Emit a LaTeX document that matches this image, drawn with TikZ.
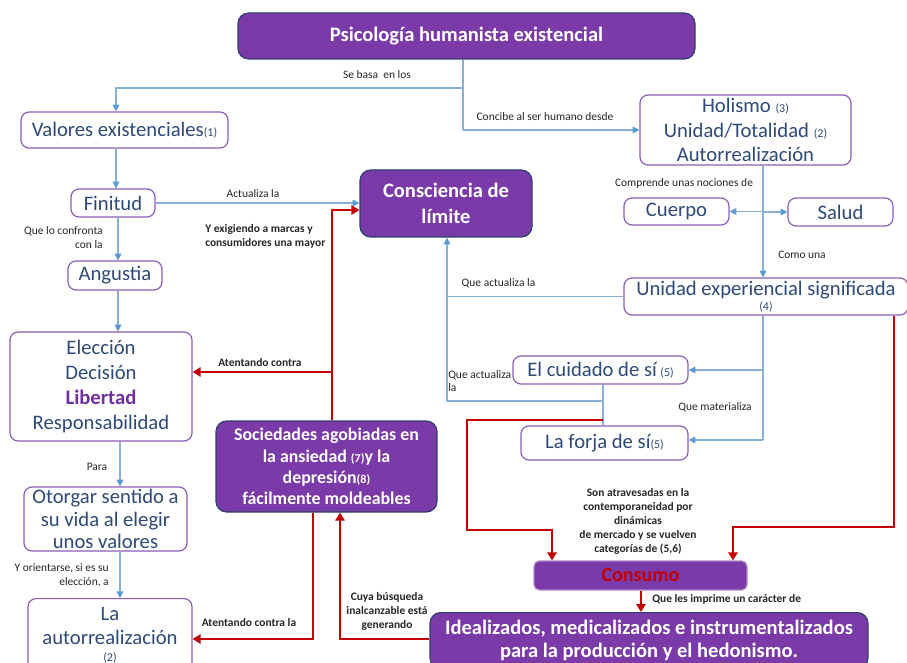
\documentclass[tikz,border=0pt]{standalone}
\usepackage{fontspec}
\setmainfont{Carlito}
\usetikzlibrary{arrows.meta}
\definecolor{purp}{HTML}{7A3AA7}
\definecolor{navy}{HTML}{2F3F6F}
\definecolor{bpurp}{HTML}{8C5DB8}
\definecolor{txtb}{HTML}{2E4A78}
\definecolor{lblue}{HTML}{86B0D8}
\definecolor{ablue}{HTML}{5B9BD5}
\definecolor{dred}{HTML}{C00000}
\definecolor{lab}{HTML}{262626}
\definecolor{lib}{HTML}{7030A0}
\newcommand\fsz[2]{\fontsize{#1}{#2}\selectfont}
\newcommand\sm[1]{{\fsz{9}{10}#1}}
\begin{document}
\begin{tikzpicture}[x=0.75pt,y=-0.75pt,
 wbox/.style={draw=bpurp,fill=white,line width=0.9pt,rounded corners=6pt,text=txtb,align=center,inner sep=0pt,font=\fsz{15.5}{18.6}},
 pbox/.style={draw=navy,fill=purp,line width=0.9pt,rounded corners=8pt,text=white,align=center,inner sep=0pt,font=\bfseries\fsz{15.4}{17}},
 sz/.style 2 args={minimum width={#1*0.75pt},minimum height={#2*0.75pt}},
 bl/.style={draw=lblue,line width=0.8pt,-{Triangle[length=5pt,width=5pt,color=ablue]}},
 bn/.style={draw=lblue,line width=0.8pt},
 rd/.style={draw=dred,line width=2.2pt,-{Triangle[length=6pt,width=7pt]}},
 lbl/.style={text=lab,font=\fsz{8.6}{10.2},inner sep=0pt,align=center},
 blbl/.style={text=lab,font=\bfseries\fsz{8.6}{10.5},inner sep=0pt,align=center}]
\useasboundingbox (0,0) rectangle (907,663);
\fill[white] (0,0) rectangle (907,663);

% nodes
\node[pbox,sz={457}{46}] (title) at (466.5,36) {Psicología humanista existencial};
\node[wbox,sz={207}{36}] (val) at (124.5,130) {Valores existenciales\sm{(1)}};
\node[wbox,sz={84}{28}] (fin) at (113,203) {Finitud};
\node[wbox,sz={94}{29}] (ang) at (115,275.5) {Angustia};
\node[wbox,sz={182}{109},font=\fsz{15.5}{18.8}] (ele) at (101,386.5) {Elección\\Decisión\\{\color{lib}\bfseries Libertad}\\Responsabilidad};
\node[wbox,sz={163}{64},font=\fsz{15.5}{17}] (oto) at (105.5,519) {Otorgar sentido a\\su vida al elegir\\unos valores};
\node[wbox,sz={164}{73},anchor=north] (aut) at (110,598) {La\\autorrealización\\[-6pt]\sm{(2)}};
\node[pbox,sz={172}{67},font=\bfseries\fsz{15.4}{19.5}] (con) at (446,203.5) {Consciencia de\\límite};
\node[wbox,sz={211}{70}] (hol) at (745.5,130) {Holismo \sm{(3)}\\Unidad/Totalidad \sm{(2)}\\Autorrealización};
\node[wbox,sz={105}{27}] (cue) at (676.5,211.5) {Cuerpo};
\node[wbox,sz={105}{28}] (sal) at (840.5,212) {Salud};
\node[wbox,sz={284}{37},font=\fsz{15.5}{11}] (uni) at (766,296.5) {Unidad experiencial significada\\\sm{(4)}};
\node[wbox,sz={175}{28}] (cui) at (600.5,370) {El cuidado de sí\,\sm{(5)}};
\node[wbox,sz={167}{34}] (for) at (604.5,443) {La forja de sí\sm{(5)}};
\node[pbox,sz={221}{91},font=\bfseries\fsz{13.4}{16}] (soc) at (326.5,466.5) {Sociedades agobiadas en\\la ansiedad \sm{(7)}y la\\depresión\sm{(8)}\\fácilmente moldeables};
\node[pbox,sz={213}{29},draw=purp!60!white,text=dred,font=\bfseries\fsz{15}{18},rounded corners=4pt] (cns) at (640.5,575.5) {Consumo};
\node[pbox,sz={438}{56},anchor=north,font=\bfseries\fsz{15.4}{17.25}] (ide) at (649,612) {Idealizados, medicalizados e instrumentalizados\\para la producción y el hedonismo.};

% helper coordinates
\coordinate (j1) at (463,88);
\coordinate (j2) at (463,130);
\coordinate (x116) at (116,0);
\coordinate (x118) at (118,0);
\coordinate (x120) at (120,0);
\coordinate (x763) at (763,0);
\coordinate (x447) at (447,0);
\coordinate (x603) at (603,0);
\coordinate (x332) at (332,0);
\coordinate (x313) at (313,0);
\coordinate (x340) at (340,0);
\coordinate (x467) at (467,0);
\coordinate (x552) at (552,0);
\coordinate (x894) at (894,0);
\coordinate (x733) at (733,0);
\coordinate (x641) at (641,0);
\coordinate (y210) at (0,210);
\coordinate (y372) at (0,372);
\coordinate (y401) at (0,401);
\coordinate (y420) at (0,420);
\coordinate (y440) at (0,440);
\coordinate (y530) at (0,530);
\coordinate (y527) at (0,527);
\coordinate (y639) at (0,639);

% blue connectors
\draw[bn] (title.south -| j1) -- (j2);
\draw[bl] (j1) -| (val.north -| x116);
\draw[bl] (j2) -- (hol.west |- j2);
\draw[bl] (val.south -| x116) -- (fin.north -| x116);
\draw[bl] (fin.east) -- (con.west |- fin.east);
\draw[bl] (fin.south -| x118) -- (ang.north -| x118);
\draw[bl] (ang.south -| x118) -- (ele.north -| x118);
\draw[bl] (ele.south -| x120) -- (oto.north -| x120);
\draw[bl] (oto.south -| x120) -- (aut.north -| x120);
\draw[bl] (hol.south -| x763) -- (uni.north -| x763);
\draw[bl] (x763 |- cue.east) -- (cue.east);
\draw[bl] (x763 |- sal.west) -- (sal.west);
\draw[bl] (uni.west) -| (con.south -| x447);
\draw[bn] (uni.south -| x763) -- (x763 |- y440);
\draw[bl] (x763 |- cui.east) -- (cui.east);
\draw[bl] (x763 |- y440) -- (for.east |- y440);
\draw[bn] (cui.south -| x603) -- (for.north -| x603);
\draw[bn] (x603 |- y401) -| (x447 |- uni.west);

% red connectors
\draw[rd] (soc.north -| x332) |- (con.west |- y210);
\draw[rd] (x332 |- y372) -- (ele.east |- y372);
\draw[rd] (soc.south -| x313) |- (aut.east |- y639);
\draw[rd] (ide.west |- y639) -| (soc.south -| x340);
\draw[rd] (x603 |- y420) -| (x467 |- y530) -| (cns.north -| x552);
\draw[rd] (uni.south -| x894) -- (x894 |- y527) -| (cns.north -| x733);
\draw[rd] (cns.south -| x641) -- (ide.north -| x641);

% labels
\node[lbl] (l1) at (377,75) {Se basa\ \ en los};
\node[lbl] (l2) at (545,117) {Concibe al ser humano desde};
\node[lbl] (l3) at (253,194) {Actualiza la};
\node[lbl,align=right,anchor=east] (l4) at (103,237.5) {Que lo confronta\\con la};
\node[blbl,align=left,anchor=west] (l5) at (205,236.5) {Y exigiendo a marcas y\\consumidores una mayor};
\node[lbl] (l6) at (684,183) {Comprende unas nociones de};
\node[lbl] (l7) at (802,255) {Como una};
\node[lbl] (l8) at (498.5,283) {Que actualiza la};
\node[lbl,align=left,anchor=west] (l9) at (448,381) {Que actualiza\\la};
\node[lbl] (l10) at (715,407) {Que materializa};
\node[blbl] (l11) at (260,363) {Atentando contra};
\node[lbl] (l12) at (97,467) {Para};
\node[lbl,align=right,anchor=east] (l13) at (109,575) {Y orientarse, si es su\\elección, a};
\node[blbl] (l14) at (249,623) {Atentando contra la};
\node[blbl] (l15) at (387,611) {Cuya búsqueda\\inalcanzable está\\generando};
\node[blbl] (l16) at (638,521) {Son atravesadas en la\\contemporaneidad por\\dinámicas\\de mercado y se vuelven\\categorías de (5,6)};
\node[blbl,anchor=west] (l17) at (652,599) {Que les imprime un carácter de};
\end{tikzpicture}
\end{document}
